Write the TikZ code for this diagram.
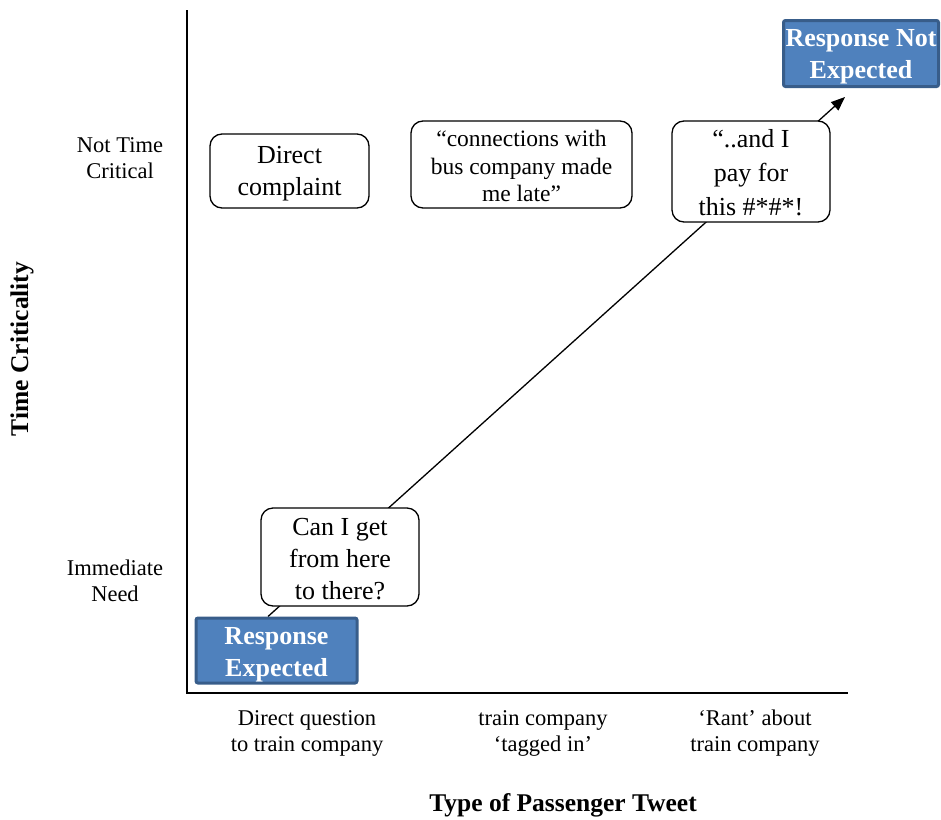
\documentclass[tikz,border=0pt]{standalone}
\usepackage{fontspec}
\setmainfont{Liberation Serif}
\usetikzlibrary{arrows.meta,backgrounds}
\definecolor{respfill}{HTML}{4F81BD}
\definecolor{respborder}{HTML}{385D8A}
\newcommand{\toppad}[1]{\rule{0pt}{#1}}
\begin{document}
\begin{tikzpicture}[x=1pt,y=-1pt,
 bubble/.style={draw, rounded corners=12pt, line width=1.3pt, fill=white, align=center, inner sep=0pt, font=\fontsize{26}{32}\selectfont},
 resp/.style={draw=respborder, fill=respfill, line width=3pt, rounded corners=2pt, text=white, align=center, font=\bfseries\fontsize{26}{32}\selectfont, inner sep=0pt},
 lab/.style={align=center, font=\fontsize{22.5}{26}\selectfont},
 axislab/.style={font=\bfseries\fontsize{25.5}{28}\selectfont},
 axis/.style={line width=1.5pt}]
\useasboundingbox (0,0) rectangle (941,819);
% axes
\coordinate (o) at (187,693);
\coordinate (ytop) at (187,10);
\coordinate (xend) at (848,693);
\draw[axis] (ytop) -- (o) -- (xend);
% axis labels
\node[axislab, rotate=90] (ylab) at (22,349) {Time Criticality};
\node[axislab] (xlab) at (563,805) {Type of Passenger Tweet};
\node[lab] (nt) at (120,158) {Not Time\\Critical};
\node[lab] (im) at (115,581) {Immediate\\Need};
\node[lab] (x1) at (307,733) {Direct question\\to train company};
\node[lab] (x2) at (543,733) {train company\\‘tagged in’};
\node[lab] (x3) at (755,733) {‘Rant’ about\\train company};
% boxes
\node[resp, minimum width=161pt, minimum height=65pt] (re) at (276.5,650.5) {\toppad{25pt}Response\\Expected};
\node[resp, minimum width=155pt, minimum height=66pt] (rne) at (861,53.5) {\toppad{24pt}Response Not\\Expected};
\node[bubble, minimum width=158pt, minimum height=98pt] (can) at (340,557) {\toppad{22pt}Can I get\\from here\\to there?};
\node[bubble, minimum width=158pt, minimum height=101pt, font=\fontsize{26}{34}\selectfont] (pay) at (751,171.5) {\toppad{20pt}“..and I\\pay for\\this \#*\#*!};
\node[bubble, minimum width=221pt, minimum height=87pt, font=\fontsize{23.5}{27.5}\selectfont] (conn) at (521.5,164.5) {\toppad{20pt}“connections with\\bus company made\\me late”};
\node[bubble, minimum width=159pt, minimum height=74pt] (dc) at (289.5,171) {\toppad{23pt}Direct\\complaint};
% connector
\begin{scope}[on background layer]
\draw[line width=1.3pt, -{Triangle[length=14pt,width=11pt]}] ([xshift=-8.5pt]re.north) -- ([xshift=-16pt,yshift=-9pt]rne.south);
\end{scope}
\end{tikzpicture}
\end{document}
